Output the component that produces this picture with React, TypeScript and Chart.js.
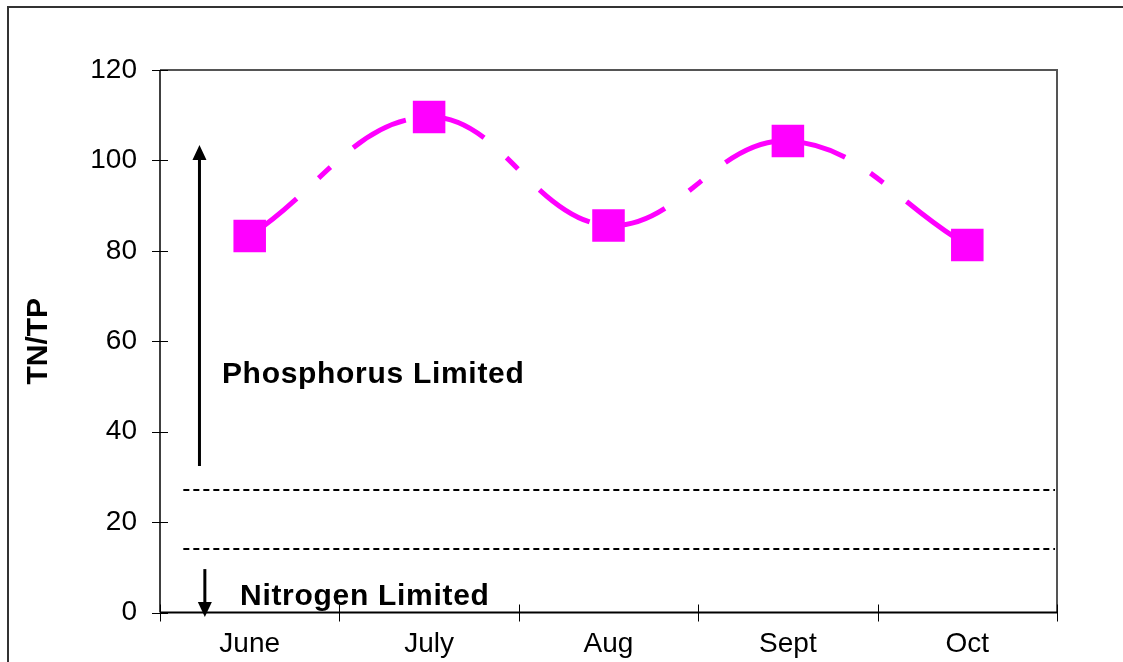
import React, { useEffect, useRef } from "react";
import { Chart, registerables } from "chart.js";

Chart.register(...registerables);

const months = ["June", "July", "Aug", "Sept", "Oct"];
const tnTpRatio = [83.3, 109.6, 85.6, 104.3, 81.3];
const yTicks = [0, 20, 40, 60, 80, 100, 120];
const thresholds = [27, 14];
const yTitle = "TN/TP";
const upLabel = "Phosphorus Limited";
const downLabel = "Nitrogen Limited";

// annotation anchors in data units: [category index, value]
const upArrow = { x: -0.28, from: 32.4, to: 103.4 };
const downArrow = { x: -0.25, from: 9.6, to: -1.0 };
const upText = { x: -0.155, y: 50.8 };
const downText = { x: -0.054, y: 1.7 };
const thresholdStart = -0.37;

const FONT = "'Liberation Sans', Arial, sans-serif";

function drawArrow(ctx: CanvasRenderingContext2D, x: number, y1: number, y2: number) {
  const dir = y2 > y1 ? 1 : -1;
  const headH = 15;
  const headW = 7;
  ctx.save();
  ctx.strokeStyle = "#000";
  ctx.fillStyle = "#000";
  ctx.lineWidth = 3;
  ctx.beginPath();
  ctx.moveTo(x, y1);
  ctx.lineTo(x, y2 - dir * headH + dir);
  ctx.stroke();
  ctx.beginPath();
  ctx.moveTo(x, y2);
  ctx.lineTo(x - headW, y2 - dir * headH);
  ctx.lineTo(x + headW, y2 - dir * headH);
  ctx.closePath();
  ctx.fill();
  ctx.restore();
}

const decorPlugin = {
  id: "decor",
  beforeDatasetsDraw(chart: any) {
    const { ctx, chartArea } = chart;
    const xs = chart.scales.x;
    const ys = chart.scales.y;
    ctx.save();
    // threshold dashed lines
    ctx.strokeStyle = "#000";
    ctx.lineWidth = 2;
    ctx.setLineDash([6, 4]);
    thresholds.forEach((v) => {
      const y = Math.round(ys.getPixelForValue(v));
      ctx.beginPath();
      ctx.moveTo(xs.getPixelForValue(thresholdStart), y);
      ctx.lineTo(chartArea.right - 2, y);
      ctx.stroke();
    });
    ctx.setLineDash([]);
    // arrows
    drawArrow(ctx, xs.getPixelForValue(upArrow.x), ys.getPixelForValue(upArrow.from), ys.getPixelForValue(upArrow.to));
    drawArrow(ctx, xs.getPixelForValue(downArrow.x), ys.getPixelForValue(downArrow.from), ys.getPixelForValue(downArrow.to));
    // texts
    ctx.fillStyle = "#000";
    ctx.font = `bold 30px ${FONT}`;
    (ctx as any).letterSpacing = "0.7px";
    ctx.textAlign = "left";
    ctx.textBaseline = "alphabetic";
    ctx.fillText(upLabel, xs.getPixelForValue(upText.x), ys.getPixelForValue(upText.y));
    ctx.fillText(downLabel, xs.getPixelForValue(downText.x), ys.getPixelForValue(downText.y));
    (ctx as any).letterSpacing = "0px";
    ctx.restore();
  },
  afterDraw(chart: any) {
    const { ctx, chartArea } = chart;
    const xs = chart.scales.x;
    const ys = chart.scales.y;
    const { left, right, top, bottom } = chartArea;
    ctx.save();
    // top and right frame
    ctx.strokeStyle = "#555";
    ctx.lineWidth = 2;
    ctx.beginPath();
    ctx.moveTo(left, top);
    ctx.lineTo(right, top);
    ctx.lineTo(right, bottom);
    ctx.stroke();
    // axes
    ctx.strokeStyle = "#000";
    ctx.lineWidth = 1.5;
    ctx.beginPath();
    ctx.moveTo(left, top);
    ctx.lineTo(left, bottom);
    ctx.stroke();
    ctx.lineWidth = 2;
    ctx.beginPath();
    ctx.moveTo(left, bottom);
    ctx.lineTo(right, bottom);
    ctx.stroke();
    // crossing tick marks
    ctx.lineWidth = 1;
    yTicks.forEach((v) => {
      const y = Math.round(ys.getPixelForValue(v)) + 0.5;
      ctx.beginPath();
      ctx.moveTo(left - 8, y);
      ctx.lineTo(left + 8, y);
      ctx.stroke();
    });
    for (let i = 0; i <= months.length; i++) {
      const x = Math.round(xs.getPixelForValue(i - 0.5)) + 0.5;
      ctx.beginPath();
      ctx.moveTo(x, bottom - 8);
      ctx.lineTo(x, bottom + 9);
      ctx.stroke();
    }
    // outer frame
    ctx.strokeStyle = "#333";
    ctx.lineWidth = 2;
    ctx.beginPath();
    ctx.moveTo(8, chart.height);
    ctx.lineTo(8, 7);
    ctx.lineTo(chart.width, 7);
    ctx.stroke();
    ctx.restore();
  },
};

export default function App() {
  const ref = useRef<HTMLCanvasElement | null>(null);
  useEffect(() => {
    if (!ref.current) return;
    const chart = new Chart(ref.current, {
      type: "line",
      data: {
        labels: months,
        datasets: [
          {
            data: tnTpRatio,
            borderColor: "#FF00FF",
            backgroundColor: "#FF00FF",
            borderWidth: 5,
            borderDash: [60, 30, 16, 30],
            tension: 0.4,
            pointStyle: "rect",
            pointRadius: 23,
            pointBackgroundColor: "#FF00FF",
            pointBorderColor: "#FF00FF",
            pointBorderWidth: 0,
            clip: false,
            // restart the dash pattern at every data point
            segment: {
              borderDashOffset: (c: any) => c.p0DataIndex * 0.0001,
            },
          } as any,
        ],
      },
      options: {
        responsive: false,
        animation: false,
        layout: { padding: { left: 0, top: 70, right: 66, bottom: 0 } },
        plugins: { legend: { display: false }, tooltip: { enabled: false } },
        scales: {
          x: {
            type: "category",
            offset: true,
            grid: { display: false },
            border: { display: false },
            ticks: { color: "#000", font: { family: FONT, size: 28 }, padding: 7, maxRotation: 0 },
            afterFit: (s: any) => {
              s.height = 49.5;
            },
          },
          y: {
            min: 0,
            max: 120,
            grid: { display: false },
            border: { display: false },
            ticks: { stepSize: 20, color: "#000", font: { family: FONT, size: 28 }, padding: 15 },
            title: {
              display: true,
              text: yTitle,
              color: "#000",
              font: { family: FONT, size: 30, weight: "bold" },
              padding: { top: 21, bottom: 0 },
            },
            afterFit: (s: any) => {
              s.width = 160;
            },
          },
        },
      },
      plugins: [decorPlugin],
    });
    return () => chart.destroy();
  }, []);
  return (
    <div style={{ position: "fixed", left: 0, top: 0, width: 1123, height: 662, background: "#fff" }}>
      <canvas ref={ref} width={1123} height={662} style={{ display: "block" }} />
    </div>
  );
}
